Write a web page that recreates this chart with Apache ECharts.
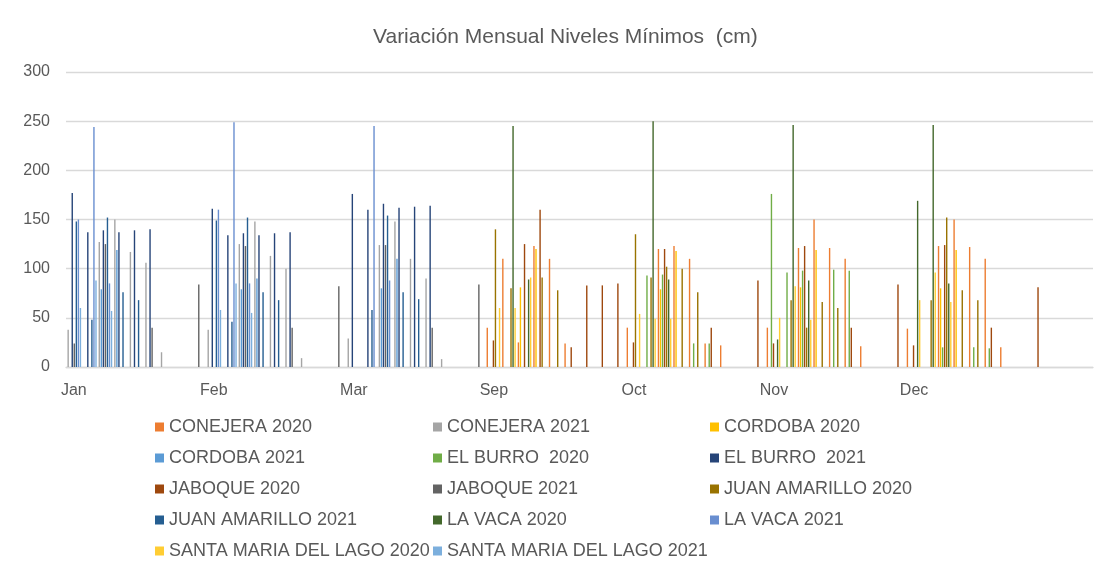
<!DOCTYPE html>
<html>
<head>
<meta charset="utf-8">
<title>Variación Mensual Niveles Mínimos</title>
<script src="https://cdn.jsdelivr.net/npm/echarts@6/dist/echarts.min.js"></script>
<style>
  html, body { margin: 0; padding: 0; background: #fff; }
  #chart { width: 1116px; height: 572px; }
</style>
</head>
<body>
<div id="chart"></div>
<script>
// meses del eje X, cada mes tiene 9 muestreos
const months = ['Jan', 'Feb', 'Mar', 'Sep', 'Oct', 'Nov', 'Dec']
const slotsPerMonth = 9
const extraSlots = 3

// valores por estación: [indice de muestreo, nivel (cm)]
const conejera2020 = [[27, 40], [28, 110], [29, 25], [30, 123], [31, 110], [32, 24], [36, 40], [38, 120], [39, 123], [40, 110], [41, 24], [42, 22], [45, 40], [47, 121], [48, 150], [49, 121], [50, 110], [51, 21], [54, 39], [56, 123], [57, 150], [58, 122], [59, 110], [60, 20]]
const conejera2021 = [[0, 38], [2, 127], [3, 150], [4, 117], [5, 106], [6, 15], [9, 38], [11, 125], [12, 148], [13, 113], [14, 100], [15, 9], [18, 29], [20, 124], [21, 148], [22, 110], [23, 90], [24, 8]]
const cordoba2020 = [[29, 81], [30, 120], [38, 79], [39, 118], [47, 81], [48, 119], [56, 80], [57, 119]]
const cordoba2021 = [[2, 79], [3, 119], [11, 79], [12, 90], [20, 80], [21, 110]]
const elBurro2020 = [[37, 93], [38, 94], [40, 24], [41, 24], [45, 176], [46, 96], [47, 98], [49, 99], [50, 98], [56, 20], [58, 20], [59, 19]]
const elBurro2021 = [[0, 177], [1, 137], [2, 139], [3, 137], [4, 139], [5, 140], [9, 161], [10, 134], [11, 136], [12, 134], [13, 136], [14, 137], [18, 176], [19, 160], [20, 166], [21, 162], [22, 163], [23, 164]]
const jaboque2020 = [[27, 27], [29, 125], [30, 160], [32, 20], [33, 83], [34, 83], [35, 85], [36, 25], [38, 120], [41, 40], [44, 88], [45, 24], [47, 123], [50, 40], [53, 84], [54, 22], [56, 124], [59, 40], [62, 81]]
const jaboque2021 = [[0, 24], [2, 125], [5, 40], [8, 84], [11, 123], [14, 40], [17, 82], [20, 124], [23, 40], [26, 84]]
const juanAmarillo2020 = [[27, 140], [28, 80], [30, 91], [31, 78], [36, 135], [37, 91], [38, 102], [39, 100], [40, 76], [46, 68], [47, 40], [48, 66], [49, 60], [55, 68], [56, 152], [57, 78], [58, 68]]
const juanAmarillo2021 = [[0, 148], [1, 48], [2, 152], [3, 76], [4, 68], [9, 149], [10, 46], [11, 152], [12, 76], [13, 68], [19, 58], [20, 154], [21, 76], [22, 69]]
const laVaca2020 = [[28, 245], [29, 89], [37, 250], [38, 89], [45, 28], [46, 246], [47, 88], [54, 169], [55, 246], [56, 85]]
const laVaca2021 = [[0, 150], [1, 244], [2, 85], [9, 160], [10, 249], [11, 85], [19, 245], [20, 88]]
const santaMaria2020 = [[27, 60], [28, 60], [29, 91], [36, 54], [37, 49], [38, 49], [45, 50], [46, 82], [47, 48], [54, 68], [55, 96], [56, 66]]
const santaMaria2021 = [[0, 60], [1, 88], [2, 57], [9, 58], [10, 85], [11, 55]]

const yTicks = [0, 50, 100, 150, 200, 250, 300]

const stations = [
  { name: 'CONEJERA 2020', data: conejera2020, color: '#ED7D31' },
  { name: 'CONEJERA 2021', data: conejera2021, color: '#A5A5A5' },
  { name: 'CORDOBA 2020', data: cordoba2020, color: '#FFC000' },
  { name: 'CORDOBA 2021', data: cordoba2021, color: '#5B9BD5' },
  { name: 'EL BURRO  2020', data: elBurro2020, color: '#70AD47' },
  { name: 'EL BURRO  2021', data: elBurro2021, color: '#264478' },
  { name: 'JABOQUE 2020', data: jaboque2020, color: '#9E480E' },
  { name: 'JABOQUE 2021', data: jaboque2021, color: '#636363' },
  { name: 'JUAN AMARILLO 2020', data: juanAmarillo2020, color: '#997300' },
  { name: 'JUAN AMARILLO 2021', data: juanAmarillo2021, color: '#255E91' },
  { name: 'LA VACA 2020', data: laVaca2020, color: '#43682B' },
  { name: 'LA VACA 2021', data: laVaca2021, color: '#698ED0' },
  { name: 'SANTA MARIA DEL LAGO 2020', data: santaMaria2020, color: '#FFCD33' },
  { name: 'SANTA MARIA DEL LAGO 2021', data: santaMaria2021, color: '#7CAFDD' },
]

const categories = []
months.forEach(m => {
  for (let i = 1; i <= slotsPerMonth; i++) categories.push(m + '-' + i)
})
for (let i = 0; i < extraSlots; i++) categories.push('')

const textColor = '#595959'
const fontFamily = 'Liberation Sans, Arial, sans-serif'

// leyenda en 3 columnas
const legendColumns = [
  { left: 150, names: [0, 3, 6, 9, 12] },
  { left: 428, names: [1, 4, 7, 10, 13] },
  { left: 705, names: [2, 5, 8, 11] },
]

const chart = echarts.init(document.getElementById('chart'))

const option = {
  animation: false,
  backgroundColor: '#fff',
  title: {
    text: 'Variación Mensual Niveles Mínimos  (cm)',
    left: 368,
    top: 22,
    textStyle: { fontSize: 21, fontWeight: 'normal', color: textColor, fontFamily },
  },
  legend: legendColumns.map(col => ({
    orient: 'vertical',
    left: col.left,
    top: 413,
    itemWidth: 9,
    itemHeight: 9,
    itemGap: 13,
    icon: 'rect',
    selectedMode: false,
    data: col.names.map(i => stations[i].name),
    textStyle: { fontSize: 18, color: textColor, fontFamily },
  })),
  grid: { left: 66, right: 23, top: 72, bottom: 205, containLabel: false },
  xAxis: {
    type: 'category',
    data: categories,
    boundaryGap: true,
    axisTick: { show: false },
    axisLine: { lineStyle: { color: '#D9D9D9', width: 1.3 } },
    axisLabel: {
      interval: slotsPerMonth - 1,
      margin: 16,
      fontSize: 16,
      color: textColor,
      fontFamily,
      formatter: v => v.split('-')[0],
    },
  },
  yAxis: {
    type: 'value',
    min: yTicks[0],
    max: yTicks[yTicks.length - 1],
    interval: 50,
    axisLine: { show: false },
    axisTick: { show: false },
    axisLabel: { margin: 16, fontSize: 16, color: textColor, fontFamily },
    splitLine: { lineStyle: { color: '#D9D9D9', width: 1.3 } },
  },
  series: stations.map(s => ({
    name: s.name,
    type: 'bar',
    data: s.data,
    barWidth: 1.4,
    barGap: '-27%',
    itemStyle: { color: s.color },
  })),
}

chart.setOption(option)
</script>
</body>
</html>
